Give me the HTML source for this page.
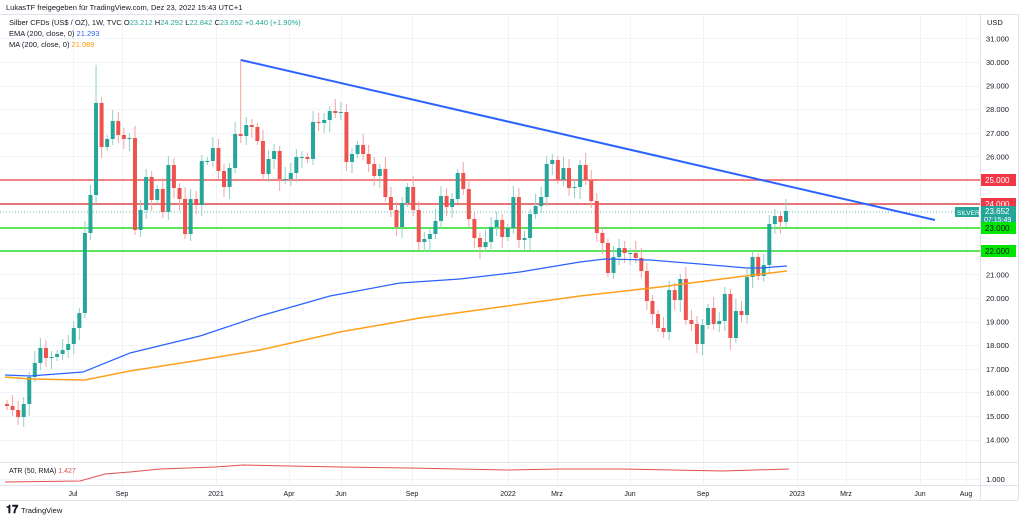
<!DOCTYPE html>
<html><head><meta charset="utf-8"><style>
body{margin:0;background:#fff;width:1024px;height:520px;overflow:hidden;font-family:"Liberation Sans",sans-serif}
svg text{font-family:"Liberation Sans",sans-serif}
</style></head><body>
<svg id="s" width="1024" height="520" xmlns="http://www.w3.org/2000/svg">
<rect width="1024" height="520" fill="#fff"/>
<g id="grid" stroke="#f0f3fa" stroke-width="1"></g>
<line x1="0" y1="14.5" x2="1018" y2="14.5" stroke="#e0e3eb"/>
<line x1="980.5" y1="14" x2="980.5" y2="500" stroke="#e0e3eb"/>
<line x1="1018.5" y1="14" x2="1018.5" y2="500" stroke="#e0e3eb"/>
<line x1="0" y1="462.5" x2="1018" y2="462.5" stroke="#e0e3eb"/>
<line x1="0" y1="485.5" x2="1018" y2="485.5" stroke="#e0e3eb"/>
<line x1="0" y1="500.5" x2="1018" y2="500.5" stroke="#e0e3eb"/>
<line x1="0" y1="180" x2="980" y2="180" stroke="#f05a5a" stroke-width="1.5"/>
<line x1="0" y1="204" x2="980" y2="204" stroke="#e04a4a" stroke-width="1.5"/>
<line x1="0" y1="228" x2="980" y2="228" stroke="#22e022" stroke-width="1.5"/>
<line x1="0" y1="251" x2="980" y2="251" stroke="#22e022" stroke-width="1.5"/>
<line x1="0" y1="212" x2="980" y2="212" stroke="#26a69a" stroke-width="0.7" stroke-dasharray="1,2"/>
<g id="c"></g>
<polyline fill="none" stroke="#ff9f1a" stroke-width="1.5" points="5,377 30,379 85,380 130,371 200,360 260,350 340,332 420,318 500,307 580,296 660,287 737,277 787,271"/>
<polyline fill="none" stroke="#2962ff" stroke-width="1.2" points="5,375 30,376 83,372 130,353 200,336 260,316 330,296 400,283 460,279 520,272 580,262 605,259 650,260 700,264 747,268 760,268 787,266"/>
<line x1="241" y1="60" x2="935" y2="220" stroke="#2962ff" stroke-width="2"/>
<polyline fill="none" stroke="#e05050" stroke-width="1" points="5,482 80,481 105,474 130,472 160,469 215,467 243,465 290,466 340,467 410,468 506,470 560,469 620,469 723,471 789,469"/>
<text x="6" y="10" font-size="7.5" fill="#131722">LukasTF freigegeben für TradingView.com, Dez 23, 2022 15:43 UTC+1</text>
<text x="9" y="25" font-size="7.5" fill="#131722">Silber CFDs (US$ / OZ), 1W, TVC  <tspan>O</tspan><tspan fill="#26a69a">23.212</tspan> H<tspan fill="#26a69a">24.292</tspan> L<tspan fill="#26a69a">22.842</tspan> C<tspan fill="#26a69a">23.652</tspan> <tspan fill="#26a69a">+0.440 (+1.90%)</tspan></text>
<text x="9" y="36" font-size="7.5" fill="#131722">EMA (200, close, 0) <tspan fill="#2962ff">21.293</tspan></text>
<text x="9" y="47" font-size="7.5" fill="#131722">MA (200, close, 0) <tspan fill="#ff9800">21.089</tspan></text>
<text x="9" y="473" font-size="7" fill="#131722">ATR (50, RMA) <tspan fill="#e05050">1.427</tspan></text>
<text x="987" y="25" font-size="7.5" fill="#131722">USD</text>
<g id="ax" font-size="7.5" fill="#131722"></g>
<rect x="981" y="174" width="35" height="12" fill="#f23645"/><text x="985" y="183" font-size="8" fill="#fff">25.000</text>
<rect x="981" y="198" width="35" height="12" fill="#f23645"/><text x="985" y="207" font-size="8" fill="#fff">24.000</text>
<rect x="955" y="207" width="24" height="10" fill="#26a69a"/><text x="957" y="215" font-size="6.5" fill="#fff">SILVER</text>
<rect x="981" y="206" width="35" height="18" fill="#26a69a"/><text x="985" y="214" font-size="8" fill="#fff">23.652</text><text x="984" y="222" font-size="7" fill="#fff">07:15:49</text>
<rect x="981" y="222" width="35" height="12" fill="#00e600"/><text x="985" y="231" font-size="8" fill="#131722">23.000</text>
<rect x="981" y="245" width="35" height="12" fill="#00e600"/><text x="985" y="254" font-size="8" fill="#131722">22.000</text>
<text x="986" y="482" font-size="7.5" fill="#131722">1.000</text>
<text x="6" y="513" font-size="11" font-weight="bold" fill="#131722">𝟏𝟕</text>
<text x="21" y="513" font-size="7.5" fill="#131722">TradingView</text>
</svg>
<script>
(function(){
var NS="http://www.w3.org/2000/svg";
function el(p,t,a,txt){var e=document.createElementNS(NS,t);for(var k in a)e.setAttribute(k,a[k]);if(txt)e.textContent=txt;p.appendChild(e);return e;}
var g=document.getElementById('grid'),ax=document.getElementById('ax');
var months=[[73,'Jul'],[122,'Sep'],[216,'2021'],[289,'Apr'],[341,'Jun'],[412,'Sep'],[508,'2022'],[557,'Mrz'],[630,'Jun'],[703,'Sep'],[797,'2023'],[846,'Mrz'],[920,'Jun'],[966,'Aug']];
months.forEach(function(m){el(g,'line',{x1:m[0]+.5,y1:15,x2:m[0]+.5,y2:485});el(ax,'text',{x:m[0],y:496,'text-anchor':'middle','font-size':7},m[1]);});
for(var p=14;p<=31;p++){var y=62+(30-p)*23.6;el(g,'line',{x1:0,y1:Math.round(y)+.5,x2:980,y2:Math.round(y)+.5});if(p!=22&&p!=23&&p!=24&&p!=25)el(ax,'text',{x:986,y:y+3},p+'.000');}
el(g,'line',{x1:0,y1:479.5,x2:980,y2:479.5});
var cl=[406,410,417,404,377,363,348,358,357,354,350,344,328,313,233,195,103,147,139,121,135,139,138,230,210,177,200,189,212,165,188,199,234,199,205,161,161,148,171,187,168,134,136,125,127,141,174,159,151,179,179,173,157,157,159,122,123,120,111,113,112,162,154,145,154,164,176,169,197,210,227,203,187,210,242,239,234,221,196,207,199,173,189,219,238,247,242,227,220,237,228,197,240,238,214,206,197,164,160,180,168,188,187,165,180,201,233,243,273,257,248,253,253,258,271,301,314,328,332,290,300,279,320,324,344,325,308,324,321,294,338,311,315,277,257,276,265,224,216,222,211];
var c=document.getElementById('c');var n=cl.length;var step=(786-7)/(n-1);
var o=404;
for(var i=0;i<n;i++){var x=7+i*step;var cc=cl[i];var up=cc<=o;var col=up?'#26a69a':'#ef5350';
var tp=Math.min(o,cc),bt=Math.max(o,cc);var hw=4+((i*7)%9),lw=4+((i*11)%9);
if(i==42)hw=75; if(i==16)hw=38;
el(c,'line',{x1:x,y1:tp-hw,x2:x,y2:bt+lw,stroke:up?'#8fd0c8':'#f5a3a1','stroke-width':1});
el(c,'rect',{x:x-2,y:tp,width:4,height:Math.max(1,bt-tp),fill:col});o=cc;}
})();
</script>
</body></html>
